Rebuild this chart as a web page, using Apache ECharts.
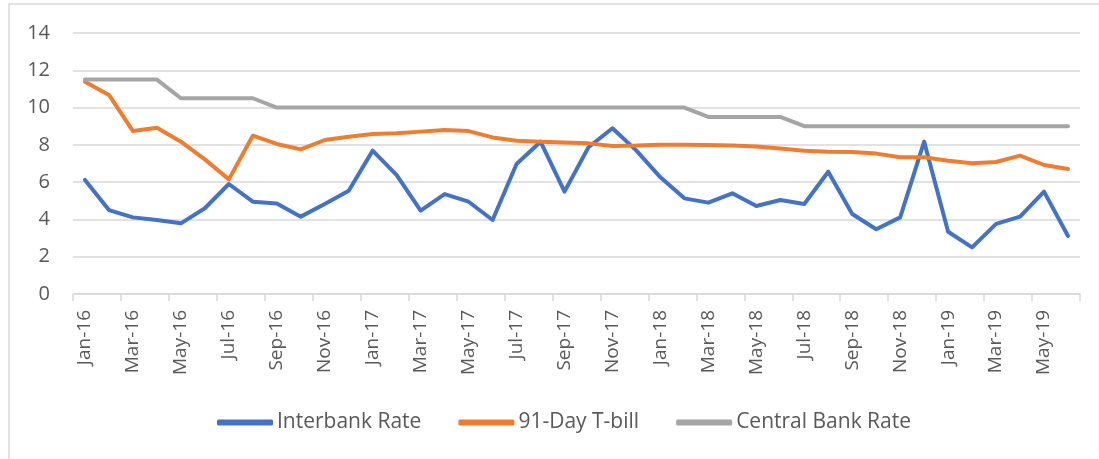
<!DOCTYPE html>
<html>
<head>
<meta charset="utf-8">
<script src="https://cdn.jsdelivr.net/npm/echarts@6/dist/echarts.min.js"></script>
<style>
  html, body { margin: 0; padding: 0; background: #ffffff; }
  #chart { width: 1099px; height: 459px; }
</style>
</head>
<body>
<div id="chart"></div>
<script>
// months Jan-16 .. Jun-19
const months = [
  'Jan-16', 'Feb-16', 'Mar-16', 'Apr-16', 'May-16', 'Jun-16', 'Jul-16', 'Aug-16', 'Sep-16', 'Oct-16', 'Nov-16', 'Dec-16',
  'Jan-17', 'Feb-17', 'Mar-17', 'Apr-17', 'May-17', 'Jun-17', 'Jul-17', 'Aug-17', 'Sep-17', 'Oct-17', 'Nov-17', 'Dec-17',
  'Jan-18', 'Feb-18', 'Mar-18', 'Apr-18', 'May-18', 'Jun-18', 'Jul-18', 'Aug-18', 'Sep-18', 'Oct-18', 'Nov-18', 'Dec-18',
  'Jan-19', 'Feb-19', 'Mar-19', 'Apr-19', 'May-19', 'Jun-19'
]

const interbank = [
  6.12, 4.5, 4.11, 3.97, 3.79, 4.6, 5.9, 4.95, 4.86, 4.15, 4.83, 5.54,
  7.69, 6.38, 4.47, 5.36, 4.95, 3.97, 6.97, 8.17, 5.49, 7.87, 8.89, 7.69,
  6.26, 5.13, 4.9, 5.4, 4.72, 5.04, 4.83, 6.56, 4.29, 3.47, 4.11, 8.17,
  3.34, 2.5, 3.76, 4.15, 5.49, 3.11
]

const tbill = [
  11.39, 10.68, 8.74, 8.92, 8.17, 7.22, 6.15, 8.49, 8.05, 7.76, 8.26, 8.44,
  8.58, 8.62, 8.71, 8.8, 8.74, 8.4, 8.22, 8.17, 8.12, 8.08, 7.94, 7.96,
  8.01, 8.01, 7.99, 7.97, 7.91, 7.81, 7.69, 7.63, 7.62, 7.53, 7.33, 7.33,
  7.15, 7.01, 7.08, 7.42, 6.92, 6.71
]

const centralBank = [
  11.5, 11.5, 11.5, 11.5, 10.5, 10.5, 10.5, 10.5, 10, 10, 10, 10,
  10, 10, 10, 10, 10, 10, 10, 10, 10, 10, 10, 10,
  10, 10, 9.5, 9.5, 9.5, 9.5, 9, 9, 9, 9, 9, 9,
  9, 9, 9, 9, 9, 9
]

const seriesNames = ['Interbank Rate', '91-Day T-bill', 'Central Bank Rate']
const colors = ['#4472c4', '#ed7d31', '#a5a5a5']

const font = "'Open Sans', sans-serif"

const chart = echarts.init(document.getElementById('chart'), null, { renderer: 'canvas' })

const makeLine = (name, data, color) => ({
  name: name,
  type: 'line',
  data: data,
  showSymbol: false,
  symbol: 'none',
  lineStyle: { color: color, width: 4, cap: 'round', join: 'round' },
  itemStyle: { color: color },
  animation: false
})

const option = {
  backgroundColor: '#ffffff',
  color: colors,
  graphic: [
    {
      type: 'rect',
      shape: { x: 9, y: 4, width: 1200, height: 600 },
      style: { fill: 'none', stroke: '#d9d9d9', lineWidth: 1.5 },
      silent: true
    }
  ],
  grid: { left: 73, right: 19, top: 33, bottom: 165 },
  legend: {
    data: seriesNames,
    top: 412,
    left: 217,
    padding: 0,
    icon: 'roundRect',
    itemWidth: 56,
    itemHeight: 6,
    itemGap: 37,
    textStyle: { color: '#595959', fontSize: 21, fontFamily: font, padding: [0, 0, 0, -1] }
  },
  xAxis: {
    type: 'category',
    data: months,
    boundaryGap: true,
    axisLine: { lineStyle: { color: '#d9d9d9', width: 1.5 } },
    axisTick: { show: true, interval: 1, length: 7, lineStyle: { color: '#d9d9d9', width: 1.5 } },
    axisLabel: {
      interval: 1,
      rotate: 90,
      margin: 16,
      color: '#595959',
      fontSize: 19,
      fontFamily: font
    }
  },
  yAxis: {
    type: 'value',
    min: 0,
    max: 14,
    interval: 2,
    axisLine: { show: false },
    axisTick: { show: false },
    axisLabel: { color: '#595959', fontSize: 20, margin: 23, fontFamily: font },
    splitLine: { lineStyle: { color: '#d9d9d9', width: 1.5 } }
  },
  series: [
    makeLine(seriesNames[0], interbank, colors[0]),
    makeLine(seriesNames[1], tbill, colors[1]),
    makeLine(seriesNames[2], centralBank, colors[2])
  ]
}

chart.setOption(option)
</script>
</body>
</html>
